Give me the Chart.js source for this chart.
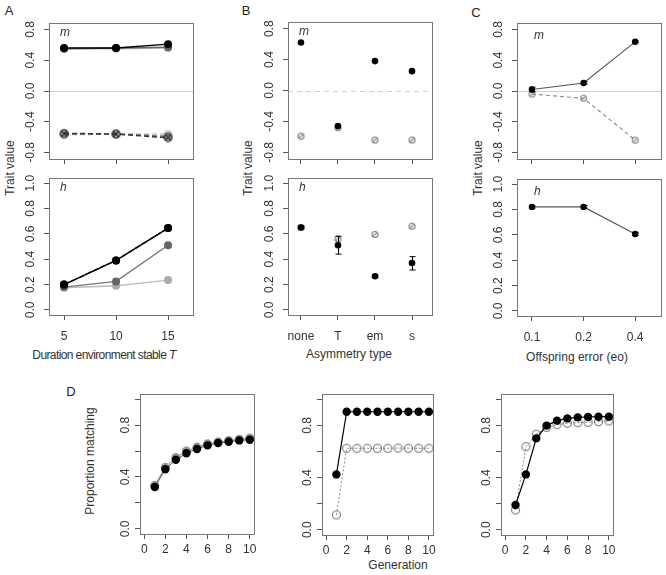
<!DOCTYPE html>
<html>
<head>
<meta charset="utf-8">
<script src="https://cdn.jsdelivr.net/npm/chart.js@4.4.1/dist/chart.umd.min.js"></script>
<style>
    body { margin: 0; background: #fff; font-family: "Liberation Sans", Arial, sans-serif; }
    #fig { position: relative; width: 666px; height: 575px; overflow: hidden; background: #fff; }
    .pane { position: absolute; }
    .txt { position: absolute; color: #333; font-size: 12px; white-space: nowrap; transform: translate(-50%, -50%); }
    .rot { transform: translate(-50%, -50%) rotate(-90deg); }
    .letter { position: absolute; color: #222; font-size: 13px; transform: translate(-50%, -50%); }
</style>
</head>
<body>
<div id="fig">
    <div class="letter" style="left:9px;top:10px">A</div>
    <div class="letter" style="left:246px;top:10px">B</div>
    <div class="letter" style="left:476px;top:12px">C</div>
    <div class="letter" style="left:71px;top:391px">D</div>

    <div class="txt rot" style="left:10px;top:168px">Trait value</div>
    <div class="txt rot" style="left:248px;top:168px">Trait value</div>
    <div class="txt rot" style="left:478px;top:168px">Trait value</div>
    <div class="txt rot" style="left:90px;top:461px">Proportion matching</div>

    <div class="txt" style="left:104px;top:355px;letter-spacing:-0.6px">Duration environment stable <i>T</i></div>
    <div class="txt" style="left:349px;top:354px">Asymmetry type</div>
    <div class="txt" style="left:577px;top:357px">Offspring error (eo)</div>
    <div class="txt" style="left:398px;top:565px">Generation</div>
</div>

<script>
// ---- Panel A: duration environment stable T ----
const aPos = [1, 2, 3];
const aCats = ['5', '10', '15'];
const aMBlack = [0.56, 0.56, 0.61];
const aMDark = [0.55, 0.56, 0.57];
const aMLight = [0.55, 0.55, 0.56];
const aMNegBlack = [-0.55, -0.56, -0.61];
const aMNegDark = [-0.56, -0.56, -0.59];
const aMNegLight = [-0.57, -0.56, -0.56];
const aHBlack = [0.20, 0.39, 0.645];
const aHDark = [0.18, 0.225, 0.51];
const aHLight = [0.175, 0.19, 0.235];

// ---- Panel B: asymmetry type ----
const bPos = [1, 2, 3, 4];
const bCats = ['none', 'T', 'em', 's'];
const bMFilled = [0.62, -0.46, 0.38, 0.25];
const bMOpen = [-0.59, -0.48, -0.64, -0.64];
const bHFilled = [0.65, 0.51, 0.265, 0.37];
const bHFilledLo = [0.64, 0.44, 0.255, 0.315];
const bHFilledHi = [0.66, 0.58, 0.275, 0.42];
const bHOpen = [0.65, 0.56, 0.595, 0.66];

// ---- Panel C: offspring error ----
const cPos = [1, 2, 3];
const cCats = ['0.1', '0.2', '0.4'];
const cMFilled = [0.02, 0.105, 0.64];
const cMFilledLo = [-0.01, 0.09, 0.63];
const cMFilledHi = [0.05, 0.12, 0.65];
const cMOpen = [-0.04, -0.095, -0.64];
const cHFilled = [0.82, 0.82, 0.607];
const cHFilledLo = [0.81, 0.81, 0.595];
const cHFilledHi = [0.83, 0.83, 0.62];

// ---- Panel D: proportion matching by generation ----
const gens = [1, 2, 3, 4, 5, 6, 7, 8, 9, 10];
const genTicks = [0, 2, 4, 6, 8, 10];
const d1Black = [0.323, 0.46, 0.533, 0.583, 0.616, 0.644, 0.662, 0.672, 0.682, 0.687];
const d1Grey = [0.335, 0.475, 0.55, 0.60, 0.63, 0.655, 0.67, 0.68, 0.69, 0.70];
const d2Black = [0.424, 0.904, 0.904, 0.904, 0.904, 0.904, 0.904, 0.904, 0.904, 0.904];
const d2Open = [0.114, 0.624, 0.624, 0.624, 0.624, 0.624, 0.626, 0.624, 0.624, 0.624];
const d3Black = [0.19, 0.424, 0.70, 0.798, 0.836, 0.853, 0.861, 0.864, 0.866, 0.866];
const d3Open = [0.152, 0.636, 0.732, 0.783, 0.805, 0.816, 0.82, 0.823, 0.828, 0.833];

// tick values
const mTicks = [-0.8, -0.4, 0, 0.4, 0.8];
const hTicks = [0, 0.2, 0.4, 0.6, 0.8, 1.0];
const dTicks = [0, 0.2, 0.4, 0.6, 0.8, 1.0];
const dTickLabels = [0, 0.4, 0.8];

const FONT = '"Liberation Sans", Arial, sans-serif';
const fig = document.getElementById('fig');

// open circle marker, optionally with a mark inside
function ring(r, color, mark) {
    const s = Math.ceil(r * 2 + 3);
    const c = document.createElement('canvas');
    c.width = s; c.height = s;
    const g = c.getContext('2d');
    const m = s / 2;
    g.strokeStyle = color;
    g.lineWidth = 1.1;
    g.beginPath();
    g.arc(m, m, r, 0, Math.PI * 2);
    g.stroke();
    if (mark) {
        const k = r * 0.7;
        g.beginPath();
        g.moveTo(m - k, m + k); g.lineTo(m + k, m - k);
        if (mark === 'x') { g.moveTo(m - k, m - k); g.lineTo(m + k, m + k); }
        g.stroke();
    }
    return c;
}

function pts(xs, ys) {
    return xs.map((x, i) => ({ x: x, y: ys[i] }));
}

function series(xs, ys, o) {
    return Object.assign({
        data: pts(xs, ys),
        borderColor: '#000',
        backgroundColor: '#000',
        pointBorderColor: '#000',
        pointBackgroundColor: '#000',
        borderWidth: 1.4,
        pointRadius: 4,
        pointBorderWidth: 0,
        tension: 0,
        showLine: true
    }, o);
}

// box, rotated y labels, zero line, error bars, panel tag
const decor = {
    id: 'decor',
    beforeDatasetsDraw(chart, args, o) {
        const { ctx, chartArea: a, scales } = chart;
        if (o.zero) {
            const y = Math.round(scales.y.getPixelForValue(0)) + 0.5;
            ctx.save();
            ctx.strokeStyle = '#cfcfcf';
            ctx.lineWidth = 1;
            ctx.setLineDash(o.zero === 'dash' ? [5, 4] : []);
            ctx.beginPath();
            ctx.moveTo(a.left, y);
            ctx.lineTo(a.right, y);
            ctx.stroke();
            ctx.restore();
        }
    },
    afterDatasetsDraw(chart) {
        const { ctx, scales } = chart;
        chart.data.datasets.forEach(ds => {
            if (!ds.errLo) return;
            ctx.save();
            ctx.strokeStyle = ds.errColor || '#000';
            ctx.lineWidth = 1;
            ds.data.forEach((p, i) => {
                const x = Math.round(scales.x.getPixelForValue(p.x)) + 0.5;
                const y1 = scales.y.getPixelForValue(ds.errLo[i]);
                const y2 = scales.y.getPixelForValue(ds.errHi[i]);
                ctx.beginPath();
                ctx.moveTo(x, y1); ctx.lineTo(x, y2);
                ctx.moveTo(x - 3, y1); ctx.lineTo(x + 3, y1);
                ctx.moveTo(x - 3, y2); ctx.lineTo(x + 3, y2);
                ctx.stroke();
            });
            ctx.restore();
        });
    },
    afterDraw(chart, args, o) {
        const { ctx, chartArea: a, scales } = chart;
        ctx.save();
        ctx.strokeStyle = '#777';
        ctx.lineWidth = 1;
        ctx.strokeRect(Math.round(a.left) + 0.5, Math.round(a.top) + 0.5,
            Math.round(a.right - a.left), Math.round(a.bottom - a.top));
        ctx.fillStyle = '#333';
        ctx.font = '12px ' + FONT;
        ctx.textAlign = 'center';
        ctx.textBaseline = 'middle';
        (o.yLabels || []).forEach(v => {
            const y = scales.y.getPixelForValue(v);
            ctx.save();
            ctx.translate(a.left - o.yOff, y);
            ctx.rotate(-Math.PI / 2);
            ctx.fillText(v.toFixed(1), 0, 0);
            ctx.restore();
        });
        if (o.tag) {
            ctx.font = 'italic 12px ' + FONT;
            ctx.textAlign = 'left';
            ctx.fillText(o.tag, a.left + (o.tagX || 11), a.top + (o.tagY || 10));
        }
        ctx.restore();
    }
};

// one plot region; box = [left, top, right, bottom] of the framed area
function makePanel(box, opt) {
    const padL = 46, padT = 8, padR = 8, padB = 40;
    const w = box[2] - box[0] + padL + padR;
    const h = box[3] - box[1] + padT + padB;
    const wrap = document.createElement('div');
    wrap.className = 'pane';
    wrap.style.left = (box[0] - padL) + 'px';
    wrap.style.top = (box[1] - padT) + 'px';
    const cv = document.createElement('canvas');
    cv.width = w; cv.height = h;
    wrap.appendChild(cv);
    fig.appendChild(wrap);

    new Chart(cv, {
        type: 'line',
        data: { datasets: opt.datasets },
        options: {
            responsive: false,
            animation: false,
            layout: { padding: { left: 0, top: padT, right: padR, bottom: 0 } },
            plugins: {
                legend: { display: false },
                tooltip: { enabled: false },
                decor: { zero: opt.zero, yLabels: opt.yLabels, yOff: opt.yOff || 18, tag: opt.tag, tagX: opt.tagX, tagY: opt.tagY }
            },
            scales: {
                x: {
                    type: 'linear',
                    min: opt.xMin,
                    max: opt.xMax,
                    afterBuildTicks: s => { s.ticks = opt.xTicks.map(v => ({ value: v })); },
                    afterFit: s => { s.height = padB; s.paddingLeft = 0; s.paddingRight = 0; },
                    grid: { drawOnChartArea: false, drawTicks: true, tickLength: 5, color: '#555' },
                    border: { display: false },
                    ticks: {
                        display: !!opt.xLabel,
                        autoSkip: false,
                        maxRotation: 0,
                        padding: opt.xPad || 9,
                        color: '#333',
                        font: { size: 12, family: FONT },
                        callback: v => opt.xLabel ? opt.xLabel(v) : ''
                    }
                },
                y: {
                    type: 'linear',
                    min: opt.yMin,
                    max: opt.yMax,
                    afterBuildTicks: s => { s.ticks = opt.yTicks.map(v => ({ value: v })); },
                    afterFit: s => { s.width = padL; s.paddingTop = 0; s.paddingBottom = 0; },
                    grid: { drawOnChartArea: false, drawTicks: true, tickLength: 5, color: '#555' },
                    border: { display: false },
                    ticks: { display: false }
                }
            }
        },
        plugins: [decor]
    });
}

const mRange = { yMin: -0.885, yMax: 0.885, yTicks: mTicks, yLabels: mTicks };
const hRange = { yMin: -0.04, yMax: 1.04, yTicks: hTicks, yLabels: hTicks };
const catLabel = cats => v => cats[Math.round(v) - 1] || '';

// Panel A, m
makePanel([49, 23, 193, 159], Object.assign({
    xMin: 0.71, xMax: 3.48, xTicks: aPos, zero: 'solid', tag: 'm',
    datasets: [
        series(aPos, aMBlack, {}),
        series(aPos, aMDark, { borderColor: '#666', pointBackgroundColor: '#666' }),
        series(aPos, aMLight, { borderColor: '#bbb', pointBackgroundColor: '#bbb' }),
        series(aPos, aMNegBlack, { borderColor: '#333', borderDash: [5, 3], pointStyle: ring(3.8, '#222', 'x') }),
        series(aPos, aMNegDark, { borderColor: '#666', borderDash: [5, 3], pointStyle: ring(3.8, '#555', 'x') }),
        series(aPos, aMNegLight, { borderColor: '#c4c4c4', borderDash: [5, 3], pointStyle: ring(3.8, '#bbb', 'x') })
    ]
}, mRange));

// Panel A, h
makePanel([49, 178, 193, 315], Object.assign({
    xMin: 0.71, xMax: 3.48, xTicks: aPos, xLabel: catLabel(aCats), tag: 'h',
    datasets: [
        series(aPos, aHBlack, { borderDash: [6, 2] }),
        series(aPos, aHBlack, {}),
        series(aPos, aHDark, { borderColor: '#777', pointBackgroundColor: '#666' }),
        series(aPos, aHLight, { borderColor: '#bbb', pointBackgroundColor: '#aaa' })
    ]
}, hRange));

// Panel B, m
makePanel([288, 22, 432, 159], Object.assign({
    xMin: 0.65, xMax: 4.54, xTicks: bPos, zero: 'dash', tag: 'm',
    datasets: [
        series(bPos, bMFilled, { showLine: false, pointRadius: 3.3 }),
        series(bPos, bMOpen, { showLine: false, pointStyle: ring(3, '#777', '/') })
    ]
}, mRange));

// Panel B, h
makePanel([288, 178, 432, 315], Object.assign({
    xMin: 0.65, xMax: 4.54, xTicks: bPos, xLabel: catLabel(bCats), tag: 'h',
    datasets: [
        series(bPos, bHFilled, { showLine: false, pointRadius: 3.3, errLo: bHFilledLo, errHi: bHFilledHi }),
        series(bPos, bHOpen, { showLine: false, pointStyle: ring(3, '#777', '/') })
    ]
}, hRange));

// Panel C, m
makePanel([517, 23, 661, 159], Object.assign({
    xMin: 0.71, xMax: 3.5, xTicks: cPos, zero: 'solid', tag: 'm', tagX: 17, tagY: 13,
    datasets: [
        series(cPos, cMFilled, { borderColor: '#555', borderWidth: 1.1, pointRadius: 3.2, errLo: cMFilledLo, errHi: cMFilledHi }),
        series(cPos, cMOpen, { borderColor: '#888', borderWidth: 1.1, borderDash: [4, 3], pointStyle: ring(3, '#888', '/') })
    ]
}, mRange));

// Panel C, h
makePanel([517, 179, 661, 316], Object.assign({
    xMin: 0.71, xMax: 3.5, xTicks: cPos, xLabel: catLabel(cCats), tag: 'h', tagX: 17, tagY: 13,
    datasets: [
        series(cPos, cHFilled, { borderColor: '#555', borderWidth: 1.1, pointRadius: 3.2, errLo: cHFilledLo, errHi: cHFilledHi })
    ]
}, hRange));

// Panel D
const dRange = { xMin: -0.4, xMax: 10.4, xTicks: genTicks, xLabel: v => String(v), xPad: 3,
    yMin: -0.04, yMax: 1.04, yTicks: dTicks, yLabels: dTickLabels, yOff: 14 };

makePanel([140, 394, 254, 534], Object.assign({
    datasets: [
        series(gens, d1Black, { borderColor: '#555', borderWidth: 1, pointRadius: 4.2 }),
        series(gens, d1Grey, { borderColor: '#888', borderWidth: 1, pointRadius: 4.6, pointBackgroundColor: '#999' })
    ]
}, dRange));

makePanel([322, 394, 433, 535], Object.assign({
    datasets: [
        series(gens, d2Black, { borderWidth: 1.2, pointRadius: 4.2 }),
        series(gens, d2Open, { borderColor: '#888', borderWidth: 1, borderDash: [2, 2], pointStyle: ring(4, '#777') })
    ]
}, dRange));

makePanel([501, 394, 613, 535], Object.assign({
    datasets: [
        series(gens, d3Black, { borderWidth: 1.2, pointRadius: 4.2 }),
        series(gens, d3Open, { borderColor: '#888', borderWidth: 1, borderDash: [2, 2], pointStyle: ring(4, '#777') })
    ]
}, dRange));
</script>
</body>
</html>
